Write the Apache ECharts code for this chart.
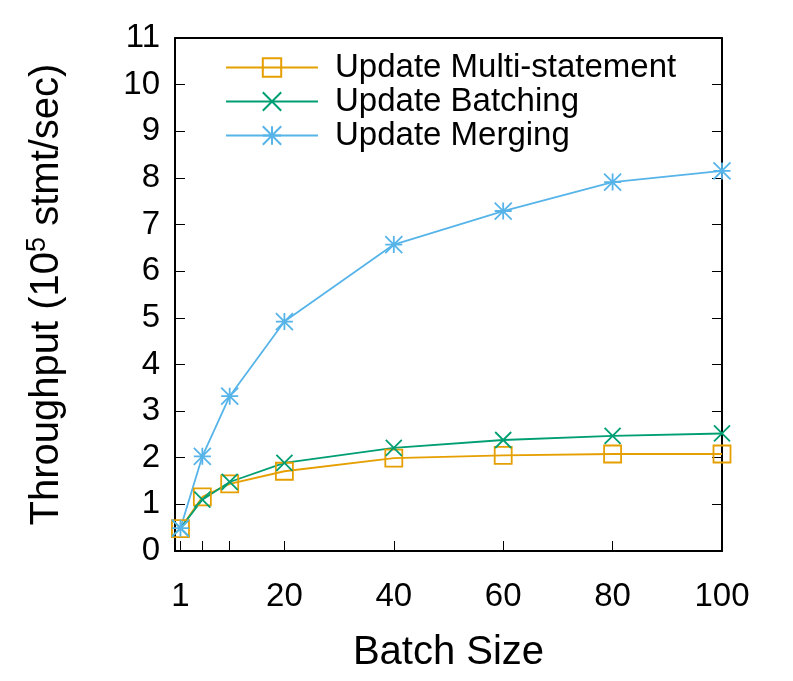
<!DOCTYPE html>
<html>
<head>
<meta charset="utf-8">
<script src="https://cdn.jsdelivr.net/npm/echarts@6/dist/echarts.min.js"></script>
<style>
  html, body { margin: 0; padding: 0; background: #fff; }
  #main { width: 793px; height: 681px; }
</style>
</head>
<body>
<div id="main"></div>
<script>
const chart = echarts.init(document.querySelector('#main'))

const BATCH_SIZES = [1, 5, 10, 20, 40, 60, 80, 100]
const X_TICKS = [1, 5, 10, 20, 40, 60, 80, 100]
const X_LABELS = [1, 20, 40, 60, 80, 100]

const MULTI_STATEMENT = [0.48, 1.16, 1.44, 1.71, 1.99, 2.05, 2.08, 2.08]
const BATCHING = [0.49, 1.10, 1.48, 1.89, 2.21, 2.38, 2.47, 2.52]
const MERGING = [0.49, 2.03, 3.32, 4.92, 6.57, 7.29, 7.91, 8.15]

const FONT = '"Liberation Sans", Arial, sans-serif'

const SQUARE = 'path://M0,0 L10,0 L10,10 L0,10 Z'
const CROSS = 'path://M0,0 L10,10 M10,0 L0,10'
const STAR = 'path://M5,0 L5,10 M0,5 L10,5 M0,0 L10,10 M10,0 L0,10'

function pairs (ys) {
  return BATCH_SIZES.map((x, i) => [x, ys[i]])
}

function makeSeries (name, ys, color, symbol, size) {
  return {
    name: name,
    type: 'line',
    data: pairs(ys),
    symbol: symbol,
    symbolSize: size,
    lineStyle: { color: color, width: 1.8 },
    itemStyle: { color: 'none', borderColor: color, borderWidth: 1.8 },
    animation: false
  }
}

let series = [
  makeSeries('Update Multi-statement', MULTI_STATEMENT, '#E69F00', SQUARE, 17),
  makeSeries('Update Batching', BATCHING, '#009E73', CROSS, 16),
  makeSeries('Update Merging', MERGING, '#56B4E9', STAR, 17)
]

// onZero has to be off, otherwise the mirrored axes snap onto the first ones
function frameLine () {
  return { show: true, onZero: false, lineStyle: { color: '#000', width: 2 } }
}
function innerTick () {
  return { show: true, inside: true, length: 10, lineStyle: { color: '#000', width: 1 } }
}

let chartOption = {
  animation: false,
  textStyle: { fontFamily: FONT },
  grid: { left: 175, right: 71, top: 38, bottom: 130 },
  legend: {
    orient: 'vertical',
    left: 220,
    top: 46,
    itemWidth: 92,
    itemHeight: 23,
    itemGap: 1,
    textStyle: {
      fontFamily: FONT,
      fontSize: 33,
      color: '#000',
      padding: [0, 0, 0, 12]
    },
    data: series.map(s => s.name)
  },
  xAxis: [
    {
      type: 'value',
      min: 0,
      max: 100,
      position: 'bottom',
      name: 'Batch Size',
      nameLocation: 'middle',
      nameGap: 82,
      nameTextStyle: { fontFamily: FONT, fontSize: 40, color: '#000' },
      splitLine: { show: false },
      axisLine: frameLine(),
      axisTick: Object.assign(innerTick(), { customValues: X_TICKS }),
      axisLabel: {
        customValues: X_LABELS,
        margin: 29,
        fontFamily: FONT,
        fontSize: 33,
        color: '#000'
      }
    },
    {
      type: 'value',
      min: 0,
      max: 100,
      position: 'top',
      splitLine: { show: false },
      axisLine: frameLine(),
      axisTick: { show: false },
      axisLabel: { show: false }
    }
  ],
  yAxis: [
    {
      type: 'value',
      min: 0,
      max: 11,
      interval: 1,
      position: 'left',
      name: '{a|Throughput (10}{s|5}{a| stmt/sec)}',
      nameLocation: 'middle',
      nameGap: 106,
      nameTextStyle: {
        fontFamily: FONT,
        color: '#000',
        rich: {
          a: { fontFamily: FONT, fontSize: 40, color: '#000' },
          s: { fontFamily: FONT, fontSize: 27, color: '#000', verticalAlign: 'top', padding: [0, 0, 18, 0] }
        }
      },
      splitLine: { show: false },
      axisLine: frameLine(),
      axisTick: innerTick(),
      axisLabel: { margin: 15, fontFamily: FONT, fontSize: 33, color: '#000' }
    },
    {
      type: 'value',
      min: 0,
      max: 11,
      interval: 1,
      position: 'right',
      splitLine: { show: false },
      axisLine: frameLine(),
      axisTick: innerTick(),
      axisLabel: { show: false }
    }
  ],
  series: series
}

chart.setOption(chartOption)
</script>
</body>
</html>
